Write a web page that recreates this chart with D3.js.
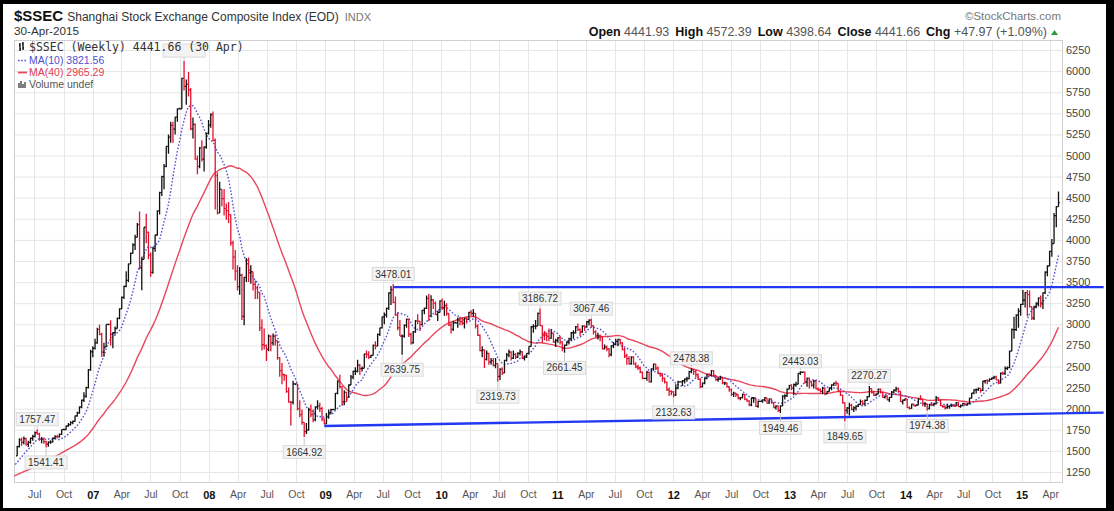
<!DOCTYPE html>
<html><head><meta charset="utf-8">
<script src="https://cdn.jsdelivr.net/npm/d3@7"></script>
<style>body{margin:0;background:#000;overflow:hidden}svg{display:block}</style>
</head><body>
<svg id="chart" width="1114" height="511"></svg>
<script>
// ---------------- DATA ----------------
// weekly closes before the first visible bar (used only for moving averages)
const preStartWeek = "2005-07-25";
const preCloses = [1020,1070,1110,1160,1150,1162,1160,1172,1170,1155,1155,1140,1118,1100,1110,1096,1088,1090,1100,1110,1130,1140,1161,1209,1218,1241,1258,1258,1285,1285,1300,1291,1271,1296,1295,1299,1320,1330,1378,1440,1440];

// weekly bars [high, low, close]; first Monday of each year's block
const yearStartWeeks = ["2006-05-08","2007-01-01","2008-01-07","2009-01-05","2010-01-04","2011-01-03","2012-01-02","2013-01-07","2014-01-06","2015-01-05"];
const w2006 = [
 [1560,1440,1550],[1650,1540,1630],[1660,1560,1600],[1670,1580,1645],
 [1655,1560,1580],[1620,1545,1600],[1660,1585,1650],[1690,1620,1672],
 [1730,1660,1715],[1757.47,1690,1700],[1715,1620,1640],[1665,1590,1640],[1660,1585,1610],
 [1620,1541.41,1580],[1615,1550,1600],[1625,1585,1605],[1660,1600,1650],
 [1685,1640,1670],[1690,1650,1665],[1705,1660,1695],[1755,1690,1752],
 [1765,1745,1752],[1800,1750,1795],[1830,1785,1810],[1850,1800,1835],[1860,1815,1850],
 [1920,1845,1915],[1965,1905,1950],[2030,1940,2020],[2110,2005,2100],
 [2195,2080,2150],[2260,2130,2250],[2470,2240,2460],[2698,2450,2675]];
const w2007 = [
 [2740,2610,2715],[2830,2700,2780],[2960,2770,2940],[2995,2870,2880],[2900,2612,2670],
 [2780,2620,2730],[2998,2730,2998],[3005,2990,2998],[3049,2750,2880],
 [2910,2715,2900],[2975,2880,2950],[3080,2950,3070],[3190,3060,3183],
 [3330,3180,3320],[3460,3300,3450],[3630,3440,3520],[3720,3500,3715],[3850,3720,3841],
 [3960,3840,3940],[4060,3880,4030],[4200,4030,4180],[4336,3650,3670],
 [3800,3404,3770],[4150,3780,4150],[4311,3960,4090],[4100,3770,3820],
 [3850,3563,3615],[3920,3600,3900],[4060,3860,4058],[4350,4050,4345],[4570,4300,4560],
 [4760,4520,4749],[4900,4600,4870],[5110,4860,5107],[5250,5020,5218],
 [5400,5150,5356],[5400,5150,5312],[5460,5250,5454],[5560,5400,5552],
 [5565,5550,5552],[5920,5580,5913],[6124.04,5770,5818],[5900,5600,5843],[5990,5700,5777],
 [5800,5300,5316],[5450,5200,5368],[5380,4950,4958],[5000,4778,4871],
 [5100,4850,5091],[5180,4930,4957],[5110,4810,5101],[5270,5080,5261],[5420,5250,5361]];
const w2008 = [
 [5500,5330,5484],[5522,5170,5180],[5200,4360,4761],[4800,4300,4320],
 [4690,4320,4599],[4599,4400,4490],[4600,4290,4370],[4430,4240,4348],
 [4450,4200,4300],[4300,3930,3962],[3990,3650,3796],[3880,3520,3629],[3700,3400,3446],
 [3680,3350,3581],[3600,3050,3094],[3560,2990,3557],[3786,3500,3761],
 [3790,3500,3613],[3700,3480,3624],[3600,3400,3473],[3520,3300,3433],
 [3460,3300,3379],[3200,2920,2957],[3060,2690,2760],[2950,2700,2748],[2760,2566,2704],
 [2880,2680,2859],[2870,2680,2780],[2890,2750,2861],[2880,2750,2805],
 [2790,2580,2605],[2610,2380,2450],[2540,2290,2405],[2410,2330,2397],
 [2400,2190,2202],[2250,2070,2079],[2090,1802,2075],[2330,2050,2293],[2300,2280,2293],
 [2250,1980,2000],[2100,1900,1930],[1990,1810,1838],[1830,1664.92,1728],
 [1830,1700,1747],[2010,1740,1987],[2050,1900,1930],[1990,1840,1871],
 [2030,1850,2020],[2100,1990,2030],[2070,1960,2000],[2020,1850,1880],[1880,1814,1820]];
const w2009 = [
 [1950,1840,1904],[1990,1880,1954],[2000,1930,1990],[2000,1985,1990],
 [2185,1990,2181],[2337,2170,2320],[2402,2240,2261],[2270,2037,2082],
 [2220,2040,2194],[2200,2080,2133],[2290,2130,2281],[2400,2280,2374],[2450,2350,2444],
 [2490,2400,2444],[2580,2430,2516],[2530,2400,2474],[2500,2440,2478],
 [2650,2480,2650],[2690,2600,2644],[2680,2590,2610],[2640,2600,2632],
 [2760,2630,2751],[2800,2700,2742],[2890,2740,2880],[2960,2860,2958],[3090,2950,3088],
 [3140,3000,3113],[3200,3080,3189],[3380,3170,3372],[3455,3230,3412],
 [3478.01,3250,3260],[3330,3100,3112],[3140,2930,2959],[3050,2860,2860],[2880,2639.75,2861],
 [3000,2840,2988],[3070,2960,3058],[3070,2850,2880],[2900,2760,2779],
 [2920,2770,2911],[3050,2900,3040],[3120,3000,3038],[3040,2920,2995],
 [3170,2990,3164],[3200,3120,3188],[3340,3180,3308],[3361,3040,3096],[3345,3100,3290],
 [3300,3180,3247],[3270,3110,3114],[3160,3040,3142],[3285,3140,3277]];
const w2010 = [
 [3306,3170,3196],[3280,3100,3224],[3250,3100,3128],[3130,2980,2990],
 [3020,2890,2939],[3040,2920,3018],[3030,3010,3018],[3080,2960,3051],
 [3090,2990,3031],[3080,2990,3013],[3080,2950,3068],[3090,3010,3059],[3150,3050,3142],
 [3170,3100,3130],[3181,3090,3130],[3100,2950,2980],[3000,2860,2870],
 [2880,2680,2688],[2740,2610,2697],[2700,2481,2584],[2690,2570,2656],[2660,2520,2554],
 [2600,2520,2570],[2600,2500,2514],[2600,2480,2535],[2530,2319.73,2382],
 [2480,2340,2470],[2490,2400,2425],[2580,2420,2572],[2660,2560,2638],
 [2700,2610,2672],[2680,2570,2598],[2690,2590,2642],[2660,2590,2611],[2670,2600,2656],
 [2700,2630,2675],[2680,2590,2598],[2630,2570,2610],[2660,2600,2655],
 [2740,2650,2738],[2980,2740,2971],[3000,2900,2975],[3050,2940,2979],
 [3140,2980,3129],[3186.72,2980,2985],[2990,2780,2888],[2920,2810,2872],[2900,2800,2857],
 [2950,2800,2837],[2940,2830,2894],[2900,2780,2790],[2830,2730,2808]];
const w2011 = [
 [2850,2780,2839],[2860,2760,2791],[2800,2680,2715],[2760,2661.45,2752],[2800,2750,2790],
 [2840,2760,2827],[2910,2800,2900],[2930,2830,2900],[2980,2890,2971],
 [3010,2920,2937],[2950,2860,2909],[2990,2900,2977],[2990,2920,2968],
 [3040,2960,3030],[3060,2990,3050],[3067.46,2960,2983],[2990,2880,2911],
 [2930,2840,2863],[2900,2820,2864],[2880,2800,2858],[2850,2700,2710],[2760,2700,2728],
 [2750,2680,2705],[2720,2610,2642],[2750,2620,2746],[2790,2720,2762],
 [2830,2750,2797],[2830,2740,2820],[2830,2760,2780],[2790,2690,2701],
 [2720,2600,2626],[2650,2520,2593],[2620,2520,2534],[2620,2520,2612],[2620,2520,2528],
 [2550,2480,2497],[2520,2460,2482],[2500,2420,2432],[2440,2350,2359],
 [2365,2355,2359],[2450,2330,2431],[2440,2310,2317],[2480,2310,2473],[2536,2450,2528],
 [2530,2460,2481],[2500,2410,2416],[2430,2380,2398],[2420,2320,2360],
 [2370,2300,2316],[2320,2210,2225],[2250,2150,2205],[2220,2160,2199]];
const w2012 = [
 [2210,2132.63,2163],[2290,2150,2244],[2330,2230,2319],[2325,2315,2319],[2340,2270,2331],
 [2360,2300,2351],[2380,2320,2357],[2450,2350,2439],[2478.38,2420,2460],
 [2470,2400,2439],[2460,2370,2404],[2420,2340,2349],[2360,2242,2262],
 [2310,2250,2302],[2370,2290,2359],[2410,2350,2406],[2420,2380,2396],[2460,2390,2452],
 [2460,2380,2394],[2400,2330,2344],[2370,2320,2350],[2390,2340,2373],
 [2380,2290,2306],[2320,2280,2306],[2310,2250,2260],[2270,2200,2225],
 [2240,2150,2170],[2200,2140,2185],[2190,2140,2168],[2170,2110,2128],[2140,2100,2132],
 [2180,2120,2168],[2170,2100,2114],[2120,2080,2092],[2100,2030,2047],
 [2130,2030,2127],[2140,2070,2127],[2120,2020,2027],[2090,2010,2086],
 [2090,2080,2086],[2110,2070,2105],[2140,2090,2128],[2130,2060,2066],[2120,2060,2117],
 [2120,2060,2069],[2080,2010,2014],[2040,1990,2030],[2040,1960,1980],
 [2040,1949.46,2033],[2160,2030,2150],[2170,2110,2153],[2240,2140,2233],[2280,2230,2276]];
const w2013 = [
 [2290,2220,2243],[2300,2160,2284],[2320,2260,2292],[2420,2290,2419],
 [2443.03,2400,2432],[2440,2425,2432],[2440,2300,2314],[2370,2260,2359],
 [2370,2240,2318],[2330,2260,2278],[2340,2240,2328],[2340,2230,2236],
 [2250,2210,2225],[2240,2190,2206],[2260,2170,2244],[2250,2160,2177],[2210,2170,2205],
 [2250,2200,2247],[2290,2220,2282],[2310,2270,2302],[2330,2270,2301],
 [2300,2200,2211],[2220,2150,2162],[2160,2060,2073],[2070,1849.65,1979],
 [2020,1940,2007],[2070,1920,2039],[2060,1980,1992],[2030,1960,2010],[2040,1980,2030],
 [2060,2020,2052],[2110,2040,2085],[2100,2040,2057],[2110,2040,2098],
 [2150,2090,2140],[2270.27,2140,2237],[2240,2180,2191],[2210,2150,2160],[2180,2150,2174],
 [2240,2170,2228],[2240,2180,2193],[2200,2130,2133],[2160,2120,2149],
 [2160,2100,2106],[2140,2080,2135],[2210,2130,2197],[2230,2180,2220],
 [2260,2200,2238],[2250,2190,2205],[2210,2080,2085],[2110,2050,2101],[2120,2090,2116]];
const w2014 = [
 [2110,2010,2013],[2030,1990,2004],[2060,2000,2054],[2060,2030,2033],
 [2050,2030,2044],[2120,2040,2115],[2160,2100,2113],[2110,2030,2056],
 [2080,2020,2057],[2060,1974.38,2004],[2060,1990,2047],[2080,2030,2046],[2070,2030,2058],
 [2150,2050,2130],[2140,2090,2097],[2110,2030,2036],[2040,2010,2026],
 [2040,1990,2011],[2060,2000,2026],[2040,2000,2034],[2060,2020,2039],
 [2050,2020,2030],[2080,2030,2070],[2080,2020,2024],[2050,2010,2036],[2070,2040,2059],
 [2070,2040,2047],[2070,2040,2059],[2130,2050,2126],[2190,2120,2185],
 [2230,2170,2224],[2240,2180,2226],[2250,2210,2241],[2240,2190,2217],
 [2330,2210,2327],[2340,2300,2332],[2350,2290,2329],[2360,2320,2347],[2370,2340,2364],
 [2390,2350,2374],[2390,2340,2341],[2350,2290,2302],[2430,2300,2420],
 [2440,2400,2418],[2500,2400,2478],[2500,2460,2487],[2690,2480,2683],
 [2950,2680,2938],[3090,2830,2938],[3120,2920,3108],[3190,2960,3157],[3240,3100,3235]];
const w2015 = [
 [3406,3230,3285],[3380,3200,3376],[3406,3095,3351],[3400,3200,3210],
 [3200,3050,3076],[3220,3050,3203],[3260,3190,3247],[3320,3210,3310],
 [3340,3200,3241],[3380,3180,3373],[3630,3360,3617],[3700,3570,3691],[3870,3700,3863],
 [4010,3800,3957],[4320,3970,4287],[4400,4150,4394],[4572.39,4398.64,4441.66]];

const yTickValues = [1250,1500,1750,2000,2250,2500,2750,3000,3250,3500,3750,4000,4250,4500,4750,5000,5250,5500,5750,6000,6250];
const monthNames = ["Jan","Feb","Mar","Apr","May","Jun","Jul","Aug","Sep","Oct","Nov","Dec"];

// showText false: the label box sits under the legend in the reference, its text is not visible
const peakLabels = [
 {date:"2006-07-10", value:1757.47, pos:"above", showText:true},
 {date:"2006-08-07", value:1541.41, pos:"below", showText:true},
 {date:"2007-10-15", value:6124.04, pos:"above", showText:false},
 {date:"2008-10-27", value:1664.92, pos:"below", showText:true},
 {date:"2009-08-03", value:3478.01, pos:"above", showText:true},
 {date:"2009-08-31", value:2639.75, pos:"below", showText:true},
 {date:"2010-06-28", value:2319.73, pos:"below", showText:true},
 {date:"2010-11-08", value:3186.72, pos:"above", showText:true},
 {date:"2011-01-24", value:2661.45, pos:"below", showText:true},
 {date:"2011-04-18", value:3067.46, pos:"above", showText:true},
 {date:"2012-01-02", value:2132.63, pos:"below", showText:true},
 {date:"2012-02-27", value:2478.38, pos:"above", showText:true},
 {date:"2012-12-03", value:1949.46, pos:"below", showText:true},
 {date:"2013-02-04", value:2443.03, pos:"above", showText:true},
 {date:"2013-06-24", value:1849.65, pos:"below", showText:true},
 {date:"2013-09-09", value:2270.27, pos:"above", showText:true},
 {date:"2014-03-10", value:1974.38, pos:"below", showText:true}];

const trendLines = [
 {start:"2009-08-03", startValue:3440, end:"2015-09-16", endValue:3440},
 {start:"2008-12-29", startValue:1795, end:"2015-09-16", endValue:1953}];

const legendLines = ["$SSEC (Weekly) 4441.66 (30 Apr)","MA(10) 3821.56","MA(40) 2965.29","Volume undef"];
const quoteFields = [["Open","4441.93"],["High","4572.39"],["Low","4398.64"],["Close","4441.66"],["Chg","+47.97 (+1.09%)"]];

// ---------------- BUILD ----------------
const parse = d3.utcParse("%Y-%m-%d");
const W = 1114, H = 511;
const plot = {l:14, r:1062, t:40, b:482};
const svg = d3.select("#chart");

const x = d3.scaleUtc().domain([parse("2006-04-28"), parse("2015-05-08")]).range([plot.l, plot.r]);
const y = d3.scaleLinear().domain([1250, 6250]).range([472, 50]);

const years = [w2006,w2007,w2008,w2009,w2010,w2011,w2012,w2013,w2014,w2015];
const weeks = [];
let prevClose = preCloses[preCloses.length-1];
years.forEach((arr, yi) => {
  let d = parse(yearStartWeeks[yi]);
  arr.forEach(([hi, lo, cl]) => {
    weeks.push({date:d, open:prevClose, high:hi, low:lo, close:cl, up: cl >= prevClose});
    prevClose = cl;
    d = d3.utcDay.offset(d, 7);
  });
});
const preDates = preCloses.map((c,i) => d3.utcDay.offset(parse(preStartWeek), 7*i));
const allDates = preDates.concat(weeks.map(w => w.date));
const allCloses = preCloses.concat(weeks.map(w => w.close));
function sma(n){
  const out = [];
  for (let i = n-1; i < allCloses.length; i++) {
    out.push({date: allDates[i], v: d3.mean(allCloses.slice(i-n+1, i+1))});
  }
  return out;
}

// frame
svg.append("rect").attr("width", W).attr("height", H).attr("fill", "#000");
svg.append("rect").attr("x", 3).attr("y", 4).attr("width", 1103).attr("height", 504).attr("fill", "#fff");

svg.append("defs").append("clipPath").attr("id","clip").append("rect")
  .attr("x", plot.l).attr("y", plot.t).attr("width", plot.r-plot.l).attr("height", plot.b-plot.t);

// grid
const xTicks = d3.utcMonth.every(3).range(x.domain()[0], x.domain()[1]);
const grid = svg.append("g");
grid.selectAll("line.h").data(yTickValues).join("line")
  .attr("x1", plot.l).attr("x2", plot.r).attr("y1", d => y(d)+0.5).attr("y2", d => y(d)+0.5)
  .attr("stroke", "#e6e6e6");
grid.selectAll("line.v").data(xTicks).join("line")
  .attr("x1", d => Math.round(x(d))+0.5).attr("x2", d => Math.round(x(d))+0.5).attr("y1", plot.t).attr("y2", plot.b)
  .attr("stroke", "#e6e6e6");
svg.append("rect").attr("x", plot.l+0.5).attr("y", plot.t+0.5).attr("width", plot.r-plot.l).attr("height", plot.b-plot.t)
  .attr("fill", "none").attr("stroke", "#cfcfcf");

// axes
const yAxis = d3.axisRight(y).tickValues(yTickValues).tickSize(0).tickPadding(4).tickFormat(d3.format("d"));
const gy = svg.append("g").attr("transform", `translate(${plot.r},0)`).call(yAxis);
gy.select(".domain").remove();
gy.selectAll("text").attr("font-family","Liberation Sans, Arial, sans-serif").attr("font-size","11px").attr("fill","#444");

const xAxis = d3.axisBottom(x).tickValues(xTicks).tickSize(0).tickPadding(9)
  .tickFormat(d => d.getUTCMonth() === 0 ? d3.utcFormat("%y")(d) : monthNames[d.getUTCMonth()]);
const gx = svg.append("g").attr("transform", `translate(0,${plot.b})`).call(xAxis);
gx.select(".domain").remove();
gx.selectAll("text").attr("font-family","Liberation Sans, Arial, sans-serif")
  .attr("font-size", d => d.getUTCMonth()===0 ? "11px" : "10.5px")
  .attr("font-weight", d => d.getUTCMonth()===0 ? "bold" : "normal")
  .attr("fill", d => d.getUTCMonth()===0 ? "#111" : "#555");

// price + MAs (clipped)
const gp = svg.append("g").attr("clip-path","url(#clip)");
const maLine = d3.line().x(d => x(d.date)).y(d => y(d.v));
gp.append("path").datum(sma(40)).attr("d", maLine).attr("fill","none").attr("stroke","#e8465c").attr("stroke-width",1.4);
gp.append("path").datum(sma(10)).attr("d", maLine).attr("fill","none").attr("stroke","#5555d0").attr("stroke-width",1.4).attr("stroke-dasharray","1.6,1.8");

gp.selectAll("path.bar").data(weeks).join("path").attr("class","bar")
  .attr("d", w => {
    const cx = x(w.date);
    const hi = Math.max(w.high, w.open, w.close), lo = Math.min(w.low, w.open, w.close);
    return `M${cx},${y(hi)}V${y(lo)}M${cx-1.2},${y(w.open)}H${cx}M${cx},${y(w.close)}H${cx+1.2}`;
  })
  .attr("fill","none").attr("stroke", w => w.up ? "#111" : "#e2122f").attr("stroke-width",1.3);

// trend lines
svg.selectAll("line.trend").data(trendLines).join("line")
  .attr("x1", d => x(parse(d.start))).attr("y1", d => y(d.startValue))
  .attr("x2", d => x(parse(d.end))).attr("y2", d => y(d.endValue))
  .attr("stroke","#2238f2").attr("stroke-width",2.4);

// peak / trough labels
const gl = svg.append("g").attr("font-family","Liberation Sans, Arial, sans-serif").attr("font-size","10px");
peakLabels.forEach(p => {
  const cx = x(parse(p.date));
  const py = y(p.value);
  const cy = p.pos === "above" ? py - 10 : py + 15;
  const bw = 42, bh = 13;
  gl.append("line").attr("x1", cx).attr("x2", cx)
    .attr("y1", p.pos === "above" ? py - 1 : py + 1)
    .attr("y2", p.pos === "above" ? cy + bh/2 : cy - bh/2)
    .attr("stroke", "#c8c8c8");
  gl.append("rect").attr("x", cx - bw/2).attr("y", cy - bh/2).attr("width", bw).attr("height", bh)
    .attr("fill","#f3f3f3").attr("stroke","#dadada");
  if (p.showText) {
    gl.append("text").attr("x", cx).attr("y", cy + 3.6).attr("text-anchor","middle").attr("fill","#333")
      .text(d3.format(".2f")(p.value));
  }
});

// legend
const lg = svg.append("g").attr("font-family","Liberation Sans, Arial, sans-serif");
lg.append("path").attr("d","M20,43V51M19,45H20M20,49H21M23,42V50M22,44H23M23,48H24").attr("stroke","#111").attr("stroke-width",1.4);
lg.append("text").attr("x",29).attr("y",51).attr("font-family","DejaVu Sans Mono, monospace").attr("font-size","11.5px")
  .attr("fill","#333").text(legendLines[0]);
lg.append("line").attr("x1",18).attr("x2",27).attr("y1",60.5).attr("y2",60.5).attr("stroke","#5555d0").attr("stroke-width",1.6).attr("stroke-dasharray","1.6,1.6");
lg.append("text").attr("x",29).attr("y",64).attr("font-size","10.5px").attr("fill","#5050cc").text(legendLines[1]);
lg.append("line").attr("x1",18).attr("x2",27).attr("y1",72.5).attr("y2",72.5).attr("stroke","#e8465c").attr("stroke-width",1.8);
lg.append("text").attr("x",29).attr("y",76).attr("font-size","10.5px").attr("fill","#e03a55").text(legendLines[2]);
lg.append("path").attr("d","M19,88V83M21,88V81M23,88V84M25,88V82").attr("stroke","#555").attr("stroke-width",1.5);
lg.append("text").attr("x",29).attr("y",88).attr("font-size","10.5px").attr("fill","#555").text(legendLines[3]);

// header
const hd = svg.append("g").attr("font-family","Liberation Sans, Arial, sans-serif");
const t1 = hd.append("text").attr("x",14).attr("y",21);
t1.append("tspan").attr("font-weight","bold").attr("font-size","15px").attr("fill","#111").text("$SSEC");
t1.append("tspan").attr("dx",4).attr("font-size","12px").attr("fill","#333").text("Shanghai Stock Exchange Composite Index (EOD)");
t1.append("tspan").attr("dx",6).attr("font-size","11px").attr("fill","#777").text("INDX");
hd.append("text").attr("x",14).attr("y",35).attr("font-size","11.7px").attr("fill","#333").text("30-Apr-2015");
hd.append("text").attr("x",1061).attr("y",20).attr("text-anchor","end").attr("font-size","11.5px").attr("fill","#777").text("\u00A9StockCharts.com");
const q = hd.append("text").attr("x",1047).attr("y",36).attr("text-anchor","end").attr("font-size","12.5px");
quoteFields.forEach(([k,v],i) => {
  q.append("tspan").attr("dx", i ? 6 : 0).attr("font-weight","bold").attr("fill","#111").text(k + " ");
  q.append("tspan").attr("fill","#555").text(v);
});
hd.append("path").attr("d","M1051,35L1058,35L1054.5,30Z").attr("fill","#2a9a3a");
</script>
</body></html>
